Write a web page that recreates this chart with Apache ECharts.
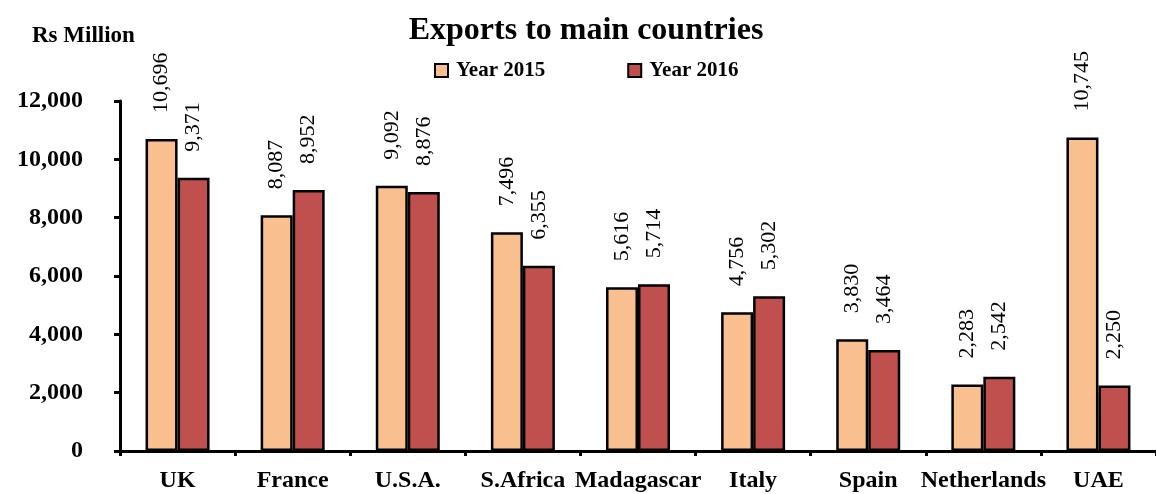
<!DOCTYPE html>
<html>
<head>
<meta charset="utf-8">
<script src="https://cdn.jsdelivr.net/npm/echarts@6/dist/echarts.min.js"></script>
<style>
  html, body { margin: 0; padding: 0; background: #fff; }
  #chart1 { width: 1156px; height: 494px; }
</style>
</head>
<body>
<div id="chart1"></div>
<script>
var countries = ['UK', 'France', 'U.S.A.', 'S.Africa', 'Madagascar', 'Italy', 'Spain', 'Netherlands', 'UAE'];
var year2015 = [10696, 8087, 9092, 7496, 5616, 4756, 3830, 2283, 10745];
var year2016 = [9371, 8952, 8876, 6355, 5714, 5302, 3464, 2542, 2250];
var yTicks = [0, 2000, 4000, 6000, 8000, 10000, 12000];

var dom = document.getElementById('chart1');
var myChart = echarts.init(dom, null, { renderer: 'canvas' });

var serif = '"Liberation Serif", "DejaVu Serif", serif';

function fmt(v) {
  return v.toLocaleString('en-US');
}

var barLabel = {
  show: true,
  position: 'top',
  rotate: 90,
  align: 'left',
  verticalAlign: 'middle',
  distance: 26,
  fontFamily: serif,
  fontSize: 22,
  color: '#000',
  formatter: function (p) { return fmt(p.value); }
};

var option = {
  color: ['#F9BF8F', '#C0504D'],
  title: {
    text: 'Exports to main countries',
    left: 581,
    textAlign: 'center',
    top: 10,
    textStyle: { fontFamily: serif, fontWeight: 'bold', fontSize: 32, color: '#000' }
  },
  graphic: [{
    type: 'text',
    left: 32,
    top: 25,
    style: { text: 'Rs Million', font: 'bold 23px "Liberation Serif", serif', fill: '#000' }
  }],
  legend: {
    top: 55,
    left: 429,
    itemWidth: 13,
    itemHeight: 13,
    itemGap: 82,
    icon: 'rect',
    textStyle: { fontFamily: serif, fontWeight: 'bold', fontSize: 21, color: '#000', padding: [0, 0, 0, 3] },
    itemStyle: { borderColor: '#000', borderWidth: 2 }
  },
  grid: { left: 120, right: -13, top: 101, bottom: 43, containLabel: false },
  xAxis: {
    type: 'category',
    data: countries,
    axisLine: { lineStyle: { color: '#000', width: 3 } },
    axisTick: { show: true, alignWithLabel: false, length: 5, lineStyle: { color: '#000', width: 3 } },
    axisLabel: { fontFamily: serif, fontWeight: 'bold', fontSize: 24, color: '#000', margin: 18, interval: 0 }
  },
  yAxis: {
    type: 'value',
    min: yTicks[0],
    max: yTicks[yTicks.length - 1],
    interval: 2000,
    splitLine: { show: false },
    axisLine: { show: true, lineStyle: { color: '#000', width: 3 } },
    axisTick: { show: true, length: 6, lineStyle: { color: '#000', width: 3 } },
    axisLabel: {
      fontFamily: serif, fontWeight: 'bold', fontSize: 24, color: '#000', margin: 37,
      formatter: function (v) { return fmt(v); }
    }
  },
  series: [
    {
      name: 'Year 2015',
      type: 'bar',
      data: year2015,
      barWidth: 32,
      barGap: '0%',
      itemStyle: { borderColor: '#000', borderWidth: 2.5 },
      label: barLabel
    },
    {
      name: 'Year 2016',
      type: 'bar',
      data: year2016,
      barWidth: 32,
      itemStyle: { borderColor: '#000', borderWidth: 2.5 },
      label: barLabel
    }
  ]
};

myChart.setOption(option);
window.addEventListener('resize', myChart.resize);
</script>
</body>
</html>
